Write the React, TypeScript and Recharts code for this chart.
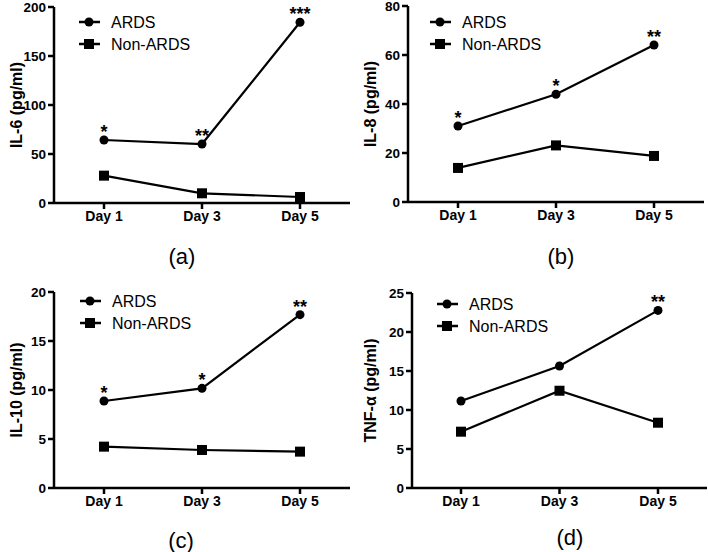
import React from 'react';
import { LineChart, Line, XAxis, YAxis, LabelList, Legend } from 'recharts';

const days = ['Day 1', 'Day 3', 'Day 5'];

const il6Ards = [64.3, 60.2, 184.4];
const il6Non = [27.9, 9.9, 6.1];
const il6Sig = ['*', '**', '***'];
const il6Ticks = [0, 50, 100, 150, 200];

const il8Ards = [31.0, 44.0, 64.1];
const il8Non = [13.9, 23.1, 18.8];
const il8Sig = ['*', '*', '**'];
const il8Ticks = [0, 20, 40, 60, 80];

const il10Ards = [8.88, 10.17, 17.69];
const il10Non = [4.22, 3.88, 3.71];
const il10Sig = ['*', '*', '**'];
const il10Ticks = [0, 5, 10, 15, 20];

const tnfArds = [11.15, 15.64, 22.77];
const tnfNon = [7.22, 12.47, 8.37];
const tnfSig = ['', '', '**'];
const tnfTicks = [0, 5, 10, 15, 20, 25];

const FONT = '"Liberation Sans", Arial, Helvetica, sans-serif';

const SquareDot = (p: any) => {
  if (p.cx == null || p.cy == null) return <g key={p.index} />;
  return <rect key={p.index} x={p.cx - 5} y={p.cy - 5} width={10} height={10} fill="#000" />;
};

const LegendBox = () => (
  <svg width={130} height={50} style={{ display: 'block', overflow: 'visible' }}>
    <line x1={0} y1={11} x2={21} y2={11} stroke="#000" strokeWidth={2.5} />
    <circle cx={10} cy={11} r={4.5} fill="#000" />
    <text x={32} y={11} dy="0.35em" fontFamily={FONT} fontSize={16} fill="#000">ARDS</text>
    <line x1={0} y1={33} x2={21} y2={33} stroke="#000" strokeWidth={2.5} />
    <rect x={5} y={28} width={10} height={10} fill="#000" />
    <text x={32} y={33} dy="0.35em" fontFamily={FONT} fontSize={16} fill="#000">Non-ARDS</text>
  </svg>
);

type PanelProps = {
  ards: number[];
  non: number[];
  sig: string[];
  ticks: number[];
  yLabel: string;
  letter: string;
  left: number;
  top: number;
  yAxisW: number;
  mTop: number;
  mBottom: number;
  mRight: number;
  pad: number;
  legendX: number;
  legendY: number;
  letterX: number;
  letterY: number;
};

const Panel = (p: PanelProps) => {
  const data = days.map((d, i) => ({ day: d, ards: p.ards[i], non: p.non[i], sig: p.sig[i] }));
  const max = p.ticks[p.ticks.length - 1];
  const YLab = (lp: any) => {
    const vb = lp.viewBox || {};
    const cy = vb.y + vb.height / 2;
    return (
      <text x={16} y={cy} transform={`rotate(-90, 16, ${cy})`} textAnchor="middle" dominantBaseline="central"
        fontFamily={FONT} fontSize={16} fontWeight="bold" fill="#000">{p.yLabel}</text>
    );
  };
  return (
    <div style={{ position: 'absolute', left: p.left, top: p.top, width: 354, height: 276 }}>
      <LineChart width={354} height={276} data={data}
        margin={{ top: p.mTop, right: p.mRight, bottom: p.mBottom, left: 0 }}>
        <XAxis dataKey="day" padding={{ left: p.pad, right: p.pad }} interval={0} height={30}
          axisLine={{ stroke: '#000', strokeWidth: 2.5 }} tickLine={{ stroke: '#000', strokeWidth: 2.5 }} tickSize={6}
          tick={{ fill: '#000', fontSize: 14, fontWeight: 'bold', fontFamily: FONT }} />
        <YAxis width={p.yAxisW} domain={[0, max]} ticks={p.ticks} interval={0} allowDataOverflow
          axisLine={{ stroke: '#000', strokeWidth: 2.5 }} tickLine={{ stroke: '#000', strokeWidth: 2.5 }} tickSize={6} tickMargin={2}
          tick={{ fill: '#000', fontSize: 13.5, fontWeight: 'bold', fontFamily: FONT }} label={<YLab />} />
        <Legend layout="horizontal" verticalAlign="middle" align="center" content={() => <LegendBox />}
          wrapperStyle={{ position: 'absolute', left: p.legendX, top: p.legendY, width: 130, height: 50 }} />
        <Line dataKey="ards" name="ARDS" stroke="#000" strokeWidth={2.2} isAnimationActive={false}
          dot={{ r: 4.5, fill: '#000', stroke: '#000', strokeWidth: 0 }} activeDot={false} legendType="circle">
          <LabelList dataKey="sig" position="top" offset={2} fill="#000" fontSize={18} fontWeight="bold" fontFamily={FONT} />
        </Line>
        <Line dataKey="non" name="Non-ARDS" stroke="#000" strokeWidth={2.2} isAnimationActive={false}
          dot={SquareDot} activeDot={false} legendType="square" />
      </LineChart>
      <div style={{ position: 'absolute', left: p.letterX - 30, top: p.letterY - 11, width: 60, height: 22, textAlign: 'center',
        fontFamily: FONT, fontSize: 22, lineHeight: '22px', color: '#000' }}>{p.letter}</div>
    </div>
  );
};

export default function App() {
  return (
    <div style={{ position: 'absolute', left: 0, top: 0, width: 708, height: 552, background: '#fff', overflow: 'hidden' }}>
      <Panel ards={il6Ards} non={il6Non} sig={il6Sig} ticks={il6Ticks} yLabel="IL-6 (pg/ml)" letter="(a)"
        left={0} top={0} yAxisW={54} mTop={7} mBottom={43} mRight={4} pad={50}
        legendX={79} legendY={11} letterX={182} letterY={257} />
      <Panel ards={il8Ards} non={il8Non} sig={il8Sig} ticks={il8Ticks} yLabel="IL-8 (pg/ml)" letter="(b)"
        left={354} top={0} yAxisW={54} mTop={6} mBottom={44} mRight={4} pad={50}
        legendX={76} legendY={11} letterX={207} letterY={257} />
      <Panel ards={il10Ards} non={il10Non} sig={il10Sig} ticks={il10Ticks} yLabel="IL-10 (pg/ml)" letter="(c)"
        left={0} top={276} yAxisW={54} mTop={16} mBottom={34} mRight={4} pad={50}
        legendX={80} legendY={14} letterX={181} letterY={265} />
      <Panel ards={tnfArds} non={tnfNon} sig={tnfSig} ticks={tnfTicks} yLabel="TNF-α (pg/ml)" letter="(d)"
        left={354} top={276} yAxisW={58} mTop={17} mBottom={34} mRight={1} pad={49}
        legendX={83} legendY={17} letterX={216} letterY={262} />
    </div>
  );
}
